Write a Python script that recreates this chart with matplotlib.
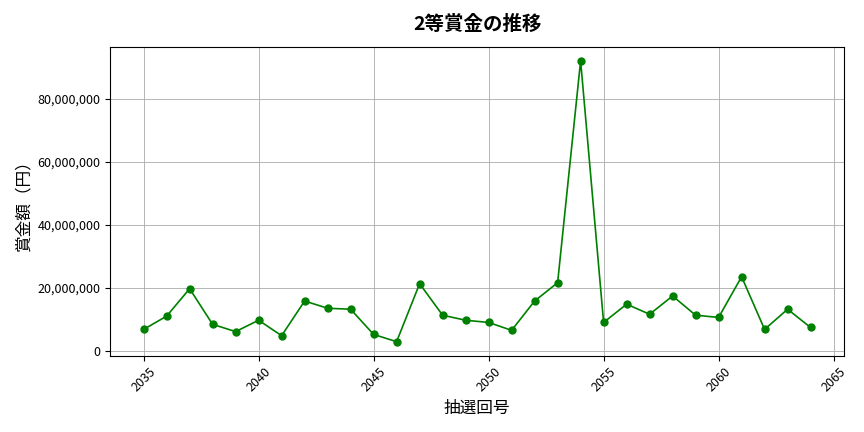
import matplotlib; matplotlib.use("Agg")
import matplotlib.pyplot as plt
from matplotlib.ticker import FuncFormatter

plt.rcParams['font.family'] = ['Noto Sans CJK JP', 'DejaVu Sans']

draws = list(range(2035, 2065))
prizes = [6.8, 11.0, 19.7, 8.4, 6.1, 9.7, 4.8, 15.8, 13.5, 13.2,
          5.2, 2.9, 21.3, 11.3, 9.7, 9.0, 6.5, 15.8, 21.6, 92.0,
          9.0, 14.8, 11.6, 17.4, 11.3, 10.6, 23.5, 6.8, 13.2, 7.4]
prizes = [p * 1e6 for p in prizes]

fig, ax = plt.subplots(figsize=(8.64, 4.32), dpi=100)
ax.plot(draws, prizes, color="green", marker="o", markersize=5, linewidth=1.2)
ax.set_title("2等賞金の推移", fontsize=14, fontweight="bold", pad=12)
ax.set_xlabel("抽選回号", fontsize=12)
ax.set_ylabel("賞金額（円）", fontsize=12)
ax.yaxis.set_major_formatter(FuncFormatter(lambda v, p: f"{int(v):,}"))
ax.set_xticks(range(2035, 2066, 5))
plt.setp(ax.get_xticklabels(), rotation=45)
ax.tick_params(labelsize=9)
ax.grid(True, color="#aaaaaa", linewidth=0.6)
fig.tight_layout()
fig.savefig("out.png")
